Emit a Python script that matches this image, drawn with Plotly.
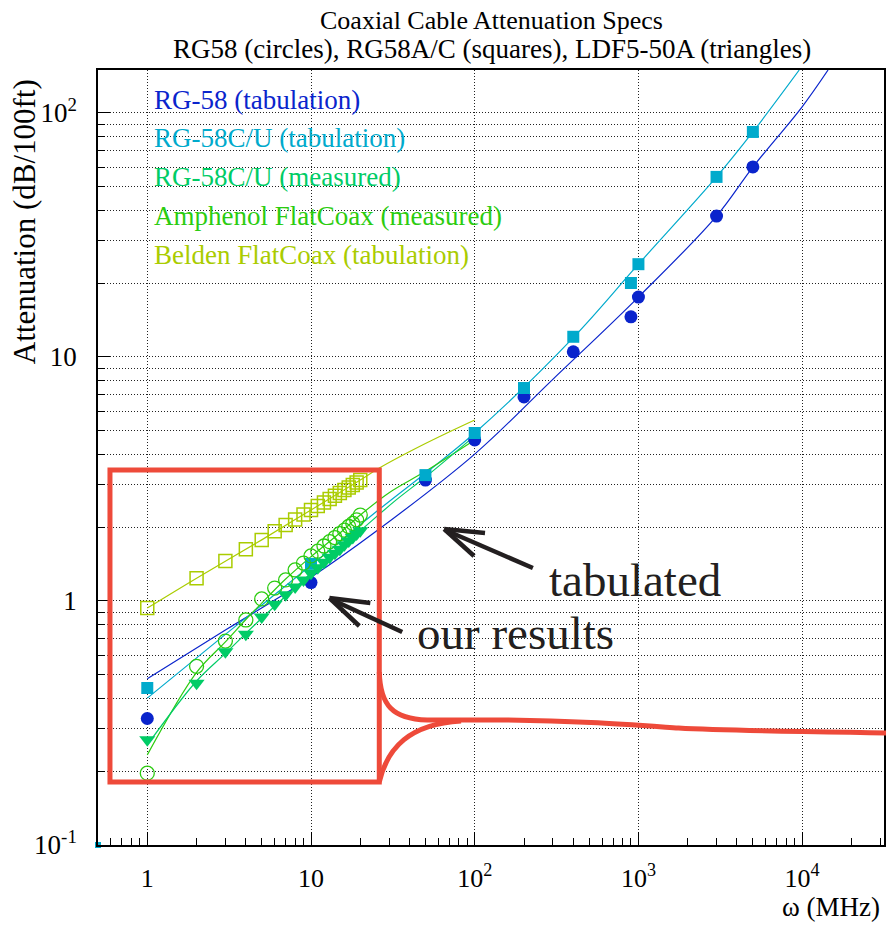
import numpy as np
import plotly.graph_objects as go

# ---------------- data ----------------
# tabulated specs (filled markers)
freq_tab = [1, 10, 50, 100, 200, 400, 900, 1000, 3000, 5000]
att_rg58_tab = [0.33, 1.19, 3.13, 4.57, 6.86, 10.5, 14.6, 17.6, 37.8, 60.1]
att_rg58cu_tab = [0.44, 1.42, 3.28, 4.88, 7.46, 12.1, 20.1, 24.0, 54.7, 83.6]

# measured (1..20 MHz)
freq_meas = list(range(1, 21))
att_rg58cu_meas = [0.27, 0.46, 0.62, 0.73, 0.86, 0.97, 1.06, 1.14, 1.22, 1.30,
                   1.37, 1.44, 1.51, 1.57, 1.63, 1.70, 1.76, 1.82, 1.88, 1.94]
att_amphenol_meas = [0.197, 0.54, 0.685, 0.836, 1.02, 1.13, 1.22, 1.34, 1.43, 1.53,
                     1.60, 1.68, 1.75, 1.82, 1.89, 1.95, 2.02, 2.08, 2.15, 2.25]
att_belden_tab = [0.935, 1.24, 1.46, 1.63, 1.78, 1.93, 2.05, 2.16, 2.26, 2.36,
                  2.45, 2.53, 2.62, 2.70, 2.77, 2.85, 2.92, 2.99, 3.06, 3.13]

# fitted curves
fit_rg58_f = [1, 3, 10, 25, 100, 300, 1000, 3000, 5000, 10000, 14400]
fit_rg58_v = [0.48, 0.76, 1.25, 1.93, 4.0, 8.1, 17.6, 37.8, 60.0, 106, 150]
fit_rg58cu_f = [1, 3, 10, 25, 100, 400, 1000, 3000, 5000, 9600]
fit_rg58cu_v = [0.40, 0.73, 1.40, 2.32, 4.88, 12.0, 24.0, 54.7, 83.6, 150]
fit_meas_f = [1, 2, 3, 5, 10, 20, 33, 50, 100]
fit_meas_v = [0.257, 0.47, 0.61, 0.85, 1.30, 1.94, 2.59, 3.22, 4.75]
fit_amph_f = [1, 2, 3, 4, 5, 7, 10, 15, 20, 30, 50, 100]
fit_amph_v = [0.234, 0.51, 0.68, 0.84, 0.98, 1.23, 1.52, 1.90, 2.25, 2.78, 3.4, 4.57]
fit_beld_f = [1, 2, 5, 10, 20, 26, 50, 100]
fit_beld_v = [0.935, 1.24, 1.78, 2.36, 3.13, 3.5, 4.42, 5.52]

corner_f = [0.5]
corner_v = [0.1]

legend_labels = ["RG-58 (tabulation)", "RG-58C/U (tabulation)", "RG-58C/U (measured)",
                 "Amphenol FlatCoax (measured)", "Belden FlatCoax (tabulation)"]
x_tickvals = [1, 10, 100, 1000, 10000]
x_ticktext = ["1", "10", "10<sup>2</sup>", "10<sup>3</sup>", "10<sup>4</sup>"]
y_tickvals = [0.1, 1, 10, 100]
y_ticktext = ["10<sup>-1</sup>", "1", "10", "10<sup>2</sup>"]

# ---------------- style ----------------
C_BLUE = "#0a24cc"
C_CYAN = "#00aacc"
C_TEAL = "#00cc66"
C_GREEN = "#2ccc10"
C_YG = "#aacc00"
C_RED = "#ee4a3a"
C_ARROW = "#231f20"
FONT = "Liberation Serif"

W, H = 888, 925
ML, MR, MT, MB = 98, 2, 70, 80
PW, PH = W - ML - MR, H - MT - MB


def px(x):
    return (x - ML) / PW


def py(y):
    return (H - MB - y) / PH


fig = go.Figure()

LW = 1.2
fig.add_trace(go.Scatter(x=fit_rg58_f, y=fit_rg58_v, mode="lines",
                         line=dict(color=C_BLUE, width=LW, shape="spline")))
fig.add_trace(go.Scatter(x=fit_rg58cu_f, y=fit_rg58cu_v, mode="lines",
                         line=dict(color=C_CYAN, width=LW, shape="spline")))
fig.add_trace(go.Scatter(x=fit_beld_f, y=fit_beld_v, mode="lines",
                         line=dict(color=C_YG, width=LW, shape="spline")))
fig.add_trace(go.Scatter(x=fit_amph_f, y=fit_amph_v, mode="lines",
                         line=dict(color=C_GREEN, width=LW, shape="spline")))
fig.add_trace(go.Scatter(x=fit_meas_f, y=fit_meas_v, mode="lines",
                         line=dict(color=C_TEAL, width=LW, shape="spline")))

fig.add_trace(go.Scatter(x=freq_tab, y=att_rg58_tab, mode="markers",
                         marker=dict(symbol="circle", size=13, color=C_BLUE, line=dict(width=0))))
fig.add_trace(go.Scatter(x=freq_tab, y=att_rg58cu_tab, mode="markers",
                         marker=dict(symbol="square", size=12, color=C_CYAN, line=dict(width=0))))
fig.add_trace(go.Scatter(x=freq_meas, y=att_belden_tab, mode="markers",
                         marker=dict(symbol="square-open", size=13, color=C_YG, line=dict(width=1.5))))
fig.add_trace(go.Scatter(x=freq_meas, y=att_amphenol_meas, mode="markers",
                         marker=dict(symbol="circle-open", size=14, color=C_GREEN, line=dict(width=1.3))))
fig.add_trace(go.Scatter(x=freq_meas, y=att_rg58cu_meas, mode="markers",
                         marker=dict(symbol="triangle-down", size=14, color=C_TEAL, line=dict(width=0))))
fig.add_trace(go.Scatter(x=corner_f, y=corner_v, mode="markers", cliponaxis=False,
                         marker=dict(symbol="square", size=6, color=C_CYAN, line=dict(width=0))))

shapes = []
# red zoom box & callout
shapes.append(dict(type="rect", xref="paper", yref="paper",
                   x0=px(110), x1=px(380), y0=py(782), y1=py(470),
                   line=dict(color=C_RED, width=5)))


def path(pts_cmds):
    out = []
    for cmd, pts in pts_cmds:
        s = cmd + " " + ", ".join(f"{px(a):.5f} {py(b):.5f}" for a, b in pts)
        out.append(s)
    return " ".join(out)


top_curve = path([("M", [(380, 672)]),
                  ("C", [(381, 705), (393, 719), (428, 720)]),
                  ("L", [(505, 720)]),
                  ("C", [(580, 721), (620, 724), (680, 728)]),
                  ("C", [(730, 731), (800, 731), (888, 733)])])
bot_curve = path([("M", [(380, 782)]),
                  ("C", [(388, 748), (410, 724), (462, 721)])])
for p in (top_curve, bot_curve):
    shapes.append(dict(type="path", xref="paper", yref="paper", path=p,
                       line=dict(color=C_RED, width=5)))

# arrows
arrows = [
    [((534, 568), (446, 530)), ((445, 529), (486, 533)), ((445, 529), (475, 556))],
    [((403, 632), (331, 599)), ((330, 598), (371, 603)), ((330, 598), (360, 626))],
]
for arr in arrows:
    for (a, b) in arr:
        shapes.append(dict(type="line", xref="paper", yref="paper",
                           x0=px(a[0]), y0=py(a[1]), x1=px(b[0]), y1=py(b[1]),
                           line=dict(color=C_ARROW, width=4.5)))

annotations = []
# titles
annotations.append(dict(text="Coaxial Cable Attenuation Specs", xref="paper", yref="paper",
                        x=px(493), y=py(21), xanchor="center", yanchor="middle", showarrow=False,
                        font=dict(family=FONT, size=26, color="black")))
annotations.append(dict(text="RG58 (circles), RG58A/C (squares), LDF5-50A (triangles)",
                        xref="paper", yref="paper", x=px(493), y=py(49),
                        xanchor="center", yanchor="middle", showarrow=False,
                        font=dict(family=FONT, size=27, color="black")))
# legend text
leg_colors = [C_BLUE, C_CYAN, C_TEAL, C_GREEN, C_YG]
leg_y = [100, 138, 177, 216, 255]
for lab, col, yy in zip(legend_labels, leg_colors, leg_y):
    annotations.append(dict(text=lab, xref="paper", yref="paper", x=px(152), y=py(yy),
                            xanchor="left", yanchor="middle", showarrow=False,
                            font=dict(family=FONT, size=27, color=col)))
# callout text
annotations.append(dict(text="tabulated", xref="paper", yref="paper", x=px(548), y=py(580),
                        xanchor="left", yanchor="middle", showarrow=False,
                        font=dict(family=FONT, size=47, color=C_ARROW)))
annotations.append(dict(text="our results", xref="paper", yref="paper", x=px(416), y=py(633),
                        xanchor="left", yanchor="middle", showarrow=False,
                        font=dict(family=FONT, size=47, color=C_ARROW)))
# axis titles
annotations.append(dict(text="ω (MHz)", xref="paper", yref="paper", x=px(884), y=py(907),
                        xanchor="right", yanchor="middle", showarrow=False,
                        font=dict(family=FONT, size=27, color="black")))
annotations.append(dict(text="Attenuation (dB/100ft)", xref="paper", yref="paper",
                        x=px(24), y=py(222), xanchor="center", yanchor="middle",
                        textangle=-90, showarrow=False,
                        font=dict(family=FONT, size=31, color="black")))

GRID = "#222222"
x_minor = [m * 10 ** d for d in range(-1, 5) for m in range(2, 10)]
y_minor = [m * 10 ** d for d in range(-1, 3) for m in range(2, 10)]

fig.update_layout(
    width=W, height=H,
    margin=dict(l=ML, r=MR, t=MT, b=MB, pad=0),
    paper_bgcolor="white", plot_bgcolor="white",
    showlegend=False,
    shapes=shapes, annotations=annotations,
    font=dict(family=FONT, color="black"),
    xaxis=dict(type="log", range=[np.log10(0.5), 4.5],
               tickmode="array", tickvals=x_tickvals, ticktext=x_ticktext,
               tickfont=dict(family=FONT, size=26, color="black"),
               ticks="inside", ticklen=13, tickwidth=1, tickcolor="black",
               showline=True, linecolor="black", linewidth=1.5, mirror=True,
               showgrid=True, gridcolor=GRID, griddash="1px,2px", gridwidth=1,
               zeroline=False, ticklabelstandoff=9,
               minor=dict(tickmode="array", tickvals=x_minor, ticks="inside", ticklen=7,
                          tickcolor="black", tickwidth=1, showgrid=False)),
    yaxis=dict(type="log", range=[-1, np.log10(150)],
               tickmode="array", tickvals=y_tickvals, ticktext=y_ticktext,
               tickfont=dict(family=FONT, size=27, color="black"),
               ticks="inside", ticklen=12, tickwidth=1, tickcolor="black",
               showline=True, linecolor="black", linewidth=1.5, mirror=True,
               showgrid=True, gridcolor=GRID, griddash="1px,2px", gridwidth=1,
               zeroline=False, ticklabelstandoff=14,
               minor=dict(tickmode="array", tickvals=y_minor, ticks="inside", ticklen=7,
                          tickcolor="black", tickwidth=1, showgrid=True,
                          gridcolor=GRID, griddash="1px,2px", gridwidth=1)),
)

fig.write_html("out.html")
